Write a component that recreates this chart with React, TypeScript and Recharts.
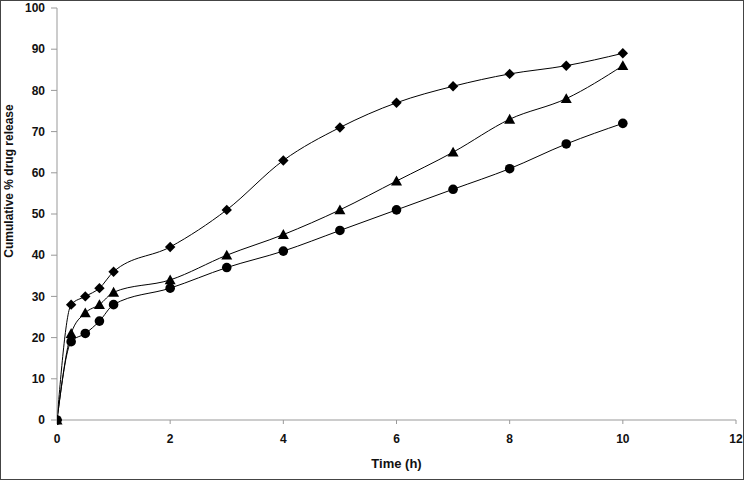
import React from "react";
import { LineChart, Line, XAxis, YAxis } from "recharts";

const times = [0, 0.25, 0.5, 0.75, 1, 2, 3, 4, 5, 6, 7, 8, 9, 10];
const seriesDiamond = [0, 28, 30, 32, 36, 42, 51, 63, 71, 77, 81, 84, 86, 89];
const seriesTriangle = [0, 21, 26, 28, 31, 34, 40, 45, 51, 58, 65, 73, 78, 86];
const seriesCircle = [0, 19, 21, 24, 28, 32, 37, 41, 46, 51, 56, 61, 67, 72];
const xTicks = [0, 2, 4, 6, 8, 10, 12];
const yTicks = [0, 10, 20, 30, 40, 50, 60, 70, 80, 90, 100];

const data = times.map((t, i) => ({
  t,
  d: seriesDiamond[i],
  tr: seriesTriangle[i],
  c: seriesCircle[i],
}));

const FONT = "'Liberation Sans', Arial, sans-serif";

const DiamondDot = (props: any) => {
  const { cx, cy, index } = props;
  if (cx == null || cy == null) return null;
  const s = 5.2;
  return (
    <path
      key={`d-${index}`}
      d={`M${cx},${cy - s} L${cx + s},${cy} L${cx},${cy + s} L${cx - s},${cy} Z`}
      fill="#000"
    />
  );
};

const TriangleDot = (props: any) => {
  const { cx, cy, index } = props;
  if (cx == null || cy == null) return null;
  const s = 5.5;
  return (
    <path
      key={`t-${index}`}
      d={`M${cx},${cy - s} L${cx + s},${cy + s * 0.8} L${cx - s},${cy + s * 0.8} Z`}
      fill="#000"
    />
  );
};

const CircleDot = (props: any) => {
  const { cx, cy, index } = props;
  if (cx == null || cy == null) return null;
  return <circle key={`c-${index}`} cx={cx} cy={cy} r={4.8} fill="#000" />;
};

const YLabel = () => (
  <text
    x={9}
    y={181}
    transform="rotate(-90, 9, 181)"
    textAnchor="middle"
    dominantBaseline="central"
    fontFamily={FONT}
    fontWeight="bold"
    fontSize={12}
    fill="#111"
  >
    Cumulative % drug release
  </text>
);

export default function App() {
  return (
    <div
      style={{
        position: "absolute",
        left: 0,
        top: 0,
        width: 744,
        height: 480,
        border: "1px solid #444",
        boxSizing: "border-box",
        background: "#fff",
      }}
    >
      <div style={{ position: "absolute", left: -1, top: -1 }}>
        <LineChart
          width={744}
          height={480}
          data={data}
          margin={{ top: 8, right: 8, bottom: 0, left: 0 }}
        >
          <XAxis
            dataKey="t"
            type="number"
            domain={[0, 12]}
            ticks={xTicks}
            allowDataOverflow
            stroke="#999"
            tickSize={4}
            tickMargin={10}
            height={60}
            tick={{ fill: "#111", fontFamily: FONT, fontWeight: "bold", fontSize: 12 }}
            label={{
              value: "Time (h)",
              position: "insideBottom",
              offset: 12,
              fill: "#111",
              fontFamily: FONT,
              fontWeight: "bold",
              fontSize: 13,
            }}
          />
          <YAxis
            type="number"
            domain={[0, 100]}
            ticks={yTicks}
            stroke="#999"
            tickSize={6}
            tickMargin={6}
            width={57}
            tick={{ fill: "#111", fontFamily: FONT, fontWeight: "bold", fontSize: 12 }}
            label={<YLabel />}
          />
          <Line
            type="monotone"
            dataKey="d"
            stroke="#000"
            strokeWidth={1}
            dot={DiamondDot}
            isAnimationActive={false}
          />
          <Line
            type="monotone"
            dataKey="tr"
            stroke="#000"
            strokeWidth={1}
            dot={TriangleDot}
            isAnimationActive={false}
          />
          <Line
            type="monotone"
            dataKey="c"
            stroke="#000"
            strokeWidth={1}
            dot={CircleDot}
            isAnimationActive={false}
          />
        </LineChart>
      </div>
    </div>
  );
}
